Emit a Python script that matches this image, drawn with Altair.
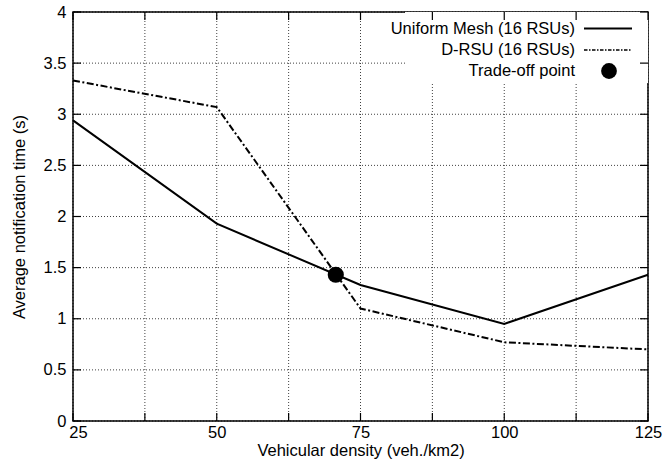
import altair as alt
import pandas as pd

# ---- data ----
density = [25, 50, 75, 100, 125]
uniform_mesh = [2.94, 1.93, 1.33, 0.95, 1.43]
d_rsu = [3.33, 3.07, 1.10, 0.77, 0.70]
tradeoff_x = [70.7]
tradeoff_y = [1.43]

x_label_values = [25, 50, 75, 100, 125]
x_grid_values = [25, 37.5, 50, 62.5, 75, 87.5, 100, 112.5, 125]
y_grid_values = [0, 0.5, 1, 1.5, 2, 2.5, 3, 3.5, 4]

legend_labels = ["Uniform Mesh (16 RSUs)", "D-RSU (16 RSUs)", "Trade-off point"]

FONT = "Liberation Sans"
FS = 16.5
W, H = 575, 409

xs = alt.Scale(domain=[25, 125], nice=False, zero=False)
ys = alt.Scale(domain=[0, 4], nice=False, zero=True)

X_AXIS = alt.Axis(
    values=x_label_values, format="d", grid=False, ticks=False, domain=False,
    labelFontSize=FS, labelFont=FONT, labelColor="black", labelPadding=3,
    labelBaseline="top", labelFlush=False, labelOverlap=False,
    labelOffset={"condition": {"test": "datum.value == 25", "value": 5}, "value": 0},
    title="Vehicular density (veh./km2)", titleFont=FONT, titleFontSize=FS,
    titleFontWeight="normal", titleColor="black", titleY=34,
    titleBaseline="alphabetic",
)
Y_AXIS = alt.Axis(
    values=y_grid_values, format="~g", grid=False, ticks=False, domain=False,
    labelFontSize=FS, labelFont=FONT, labelColor="black", labelPadding=7,
    labelFlush=False, labelOverlap=False,
    title="Average notification time (s)", titleFont=FONT, titleFontSize=FS,
    titleFontWeight="normal", titleColor="black", titleX=-54,
    titleBaseline="middle",
)

def X():
    return alt.X("x:Q", scale=xs, axis=X_AXIS)

def Y():
    return alt.Y("y:Q", scale=ys, axis=Y_AXIS)

df_u = pd.DataFrame({"x": density, "y": uniform_mesh})
df_d = pd.DataFrame({"x": density, "y": d_rsu})
df_t = pd.DataFrame({"x": tradeoff_x, "y": tradeoff_y})
df_gx = pd.DataFrame({"x": x_grid_values})
df_gy = pd.DataFrame({"y": y_grid_values})
dummy = alt.Data(values=[{}])

grid_style = dict(color="#000", strokeDash=[1, 2], strokeWidth=1, opacity=0.75)

grid_x = alt.Chart(df_gx).mark_rule(**grid_style).encode(x=X())
grid_y = alt.Chart(df_gy).mark_rule(**grid_style).encode(y=Y())

# white background behind the key
key_bg = alt.Chart(dummy).mark_rect(fill="white").encode(
    x=alt.value(332), x2=alt.value(W), y=alt.value(0), y2=alt.value(71)
)

line_u = alt.Chart(df_u).mark_line(color="black", strokeWidth=2).encode(x=X(), y=Y())
line_d = alt.Chart(df_d).mark_line(
    color="black", strokeWidth=2, strokeDash=[7, 2.5, 2, 2.5]
).encode(x=X(), y=Y())

pt = alt.Chart(df_t).mark_point(
    filled=True, color="black", size=260, opacity=1, shape="circle"
).encode(x=X(), y=Y())

# inward tick marks on all four sides
TL = 8
tick_style = dict(color="black", strokeWidth=1.2)
ticks_bottom = alt.Chart(df_gx).mark_rule(**tick_style).encode(
    x=X(), y=alt.value(H), y2=alt.value(H - TL)
)
ticks_top = alt.Chart(df_gx).mark_rule(**tick_style).encode(
    x=X(), y=alt.value(0), y2=alt.value(TL)
)
ticks_left = alt.Chart(df_gy).mark_rule(**tick_style).encode(
    y=Y(), x=alt.value(0), x2=alt.value(TL)
)
ticks_right = alt.Chart(df_gy).mark_rule(**tick_style).encode(
    y=Y(), x=alt.value(W), x2=alt.value(W - TL)
)

# key
key_text_x = 502
key_rows = [16.5, 38, 59]
key_texts = [
    alt.Chart(dummy).mark_text(
        align="right", baseline="middle", font=FONT, fontSize=FS, color="black"
    ).encode(x=alt.value(key_text_x), y=alt.value(ry), text=alt.value(lbl))
    for lbl, ry in zip(legend_labels, key_rows)
]
key_line_u = alt.Chart(dummy).mark_rule(color="black", strokeWidth=2).encode(
    x=alt.value(511), x2=alt.value(559), y=alt.value(key_rows[0])
)
key_line_d = alt.Chart(dummy).mark_rule(
    color="black", strokeWidth=1.5, strokeDash=[3.5, 1.5, 1.5, 1.5]
).encode(x=alt.value(511), x2=alt.value(559), y=alt.value(key_rows[1]))
key_pt = alt.Chart(dummy).mark_point(
    filled=True, color="black", size=250, opacity=1, shape="circle"
).encode(x=alt.value(536), y=alt.value(key_rows[2]))

chart = alt.layer(
    grid_x, grid_y, key_bg, line_u, line_d,
    ticks_bottom, ticks_top, ticks_left, ticks_right,
    *key_texts, key_line_u, key_line_d, key_pt, pt,
).properties(
    width=W, height=H,
    autosize="none",
    padding={"left": 73, "top": 12, "right": 17, "bottom": 46},
    background="white",
).configure_view(
    stroke="black", strokeWidth=1.5
)

chart.save("out.html", embed_options={"renderer": "svg", "actions": False})
